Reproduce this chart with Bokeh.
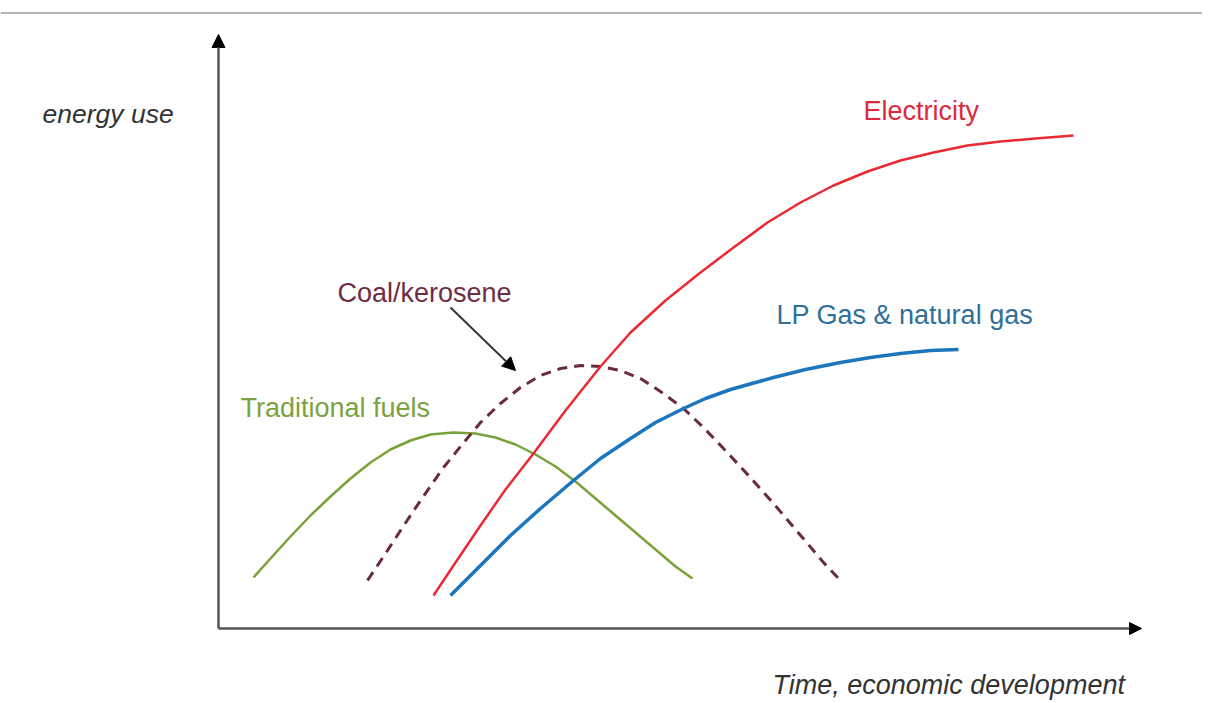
from bokeh.plotting import figure
from bokeh.models import Range1d, Arrow, NormalHead, Span
from bokeh.core.properties import value
from bokeh.embed import file_html
from bokeh.resources import INLINE

# ---- data (conceptual curves: time/economic development vs energy use) ----
trad_x = [3.5, 5.2, 7.2, 9.2, 11.2, 13.2, 15.2, 17.2, 19.2, 21.2, 23.5, 25.7, 27.7, 29.7,
          31.7, 33.7, 35.7, 37.7, 39.7, 41.7, 43.7, 45.7, 47.4]
trad_y = [5.1, 7.0, 9.2, 11.3, 13.2, 15.0, 16.6, 17.9, 18.8, 19.4, 19.6, 19.5, 19.1, 18.4,
          17.4, 16.2, 14.7, 13.0, 11.3, 9.6, 7.9, 6.2, 5.0]

coal_x = [14.9, 16.7, 18.2, 20.2, 22.5, 24.2, 26.2, 28.2, 30.2, 32.2, 34.2, 36.2, 38.2,
          40.2, 42.2, 44.2, 46.5, 48.5, 50.5, 53.0, 55.5, 57.2, 58.9, 60.5, 62.2]
coal_y = [4.8, 7.5, 9.8, 12.8, 16.1, 18.2, 20.6, 22.5, 24.1, 25.3, 26.0, 26.3, 26.2,
          25.8, 25.0, 23.7, 22.0, 20.1, 18.0, 15.3, 12.5, 10.5, 8.5, 6.6, 4.8]

elec_x = [21.5, 23.7, 26.2, 28.7, 31.5, 34.7, 38.2, 41.2, 44.7, 48.2, 51.5, 54.9, 58.2,
          61.5, 64.9, 68.2, 71.5, 74.9, 78.2, 81.7, 85.5]
elec_y = [3.3, 6.6, 10.3, 13.9, 17.5, 21.8, 26.2, 29.6, 32.8, 35.6, 38.1, 40.6, 42.6,
          44.3, 45.7, 46.8, 47.6, 48.3, 48.7, 49.0, 49.3]

gas_x = [23.2, 26.2, 29.2, 32.2, 35.5, 38.2, 41.2, 43.7, 46.5, 48.7, 51.2, 55.5, 58.7,
         62.2, 65.2, 68.2, 71.2, 74.0]
gas_y = [3.3, 6.3, 9.3, 12.0, 14.8, 17.0, 19.0, 20.6, 22.0, 23.0, 23.9, 25.1, 25.9,
         26.6, 27.1, 27.5, 27.8, 27.9]

labels = ["Traditional fuels", "Coal/kerosene", "Electricity", "LP Gas & natural gas"]
label_x = [2.2, 11.9, 64.5, 55.8]
label_y = [22.1, 33.6, 51.8, 31.4]

y_title = "energy use"
x_title = "Time, economic development"
axis_x_end = 92.3
axis_y_end = 59.4

FONT = value("Liberation Sans")

p = figure(width=1202, height=701, x_range=Range1d(-21.8, 98.4), y_range=Range1d(-7.3, 62.8),
           output_backend="svg", toolbar_location=None, min_border=0,
           x_axis_location=None, y_axis_location=None)
p.grid.visible = False
p.outline_line_color = None
p.background_fill_color = "white"

# faint top rule
p.add_layout(Span(location=61.55, dimension="width", line_color="#b4b4b4", line_width=2))

# axes with arrows
p.add_layout(Arrow(end=NormalHead(size=13, fill_color="black", line_color="black"),
                   x_start=0, y_start=0, x_end=0, y_end=axis_y_end,
                   line_color="#555555", line_width=2.5))
p.add_layout(Arrow(end=NormalHead(size=12, fill_color="black", line_color="black"),
                   x_start=0, y_start=0, x_end=axis_x_end, y_end=0,
                   line_color="#555555", line_width=2.5))

# curves
p.line(trad_x, trad_y, line_color="#7aa23a", line_width=2.5, line_join="round")
p.line(coal_x, coal_y, line_color="#6b2a3c", line_width=3, line_dash="10 7", line_join="round")
p.line(elec_x, elec_y, line_color="#ea2a32", line_width=2.5, line_join="round")
p.line(gas_x, gas_y, line_color="#1c76bd", line_width=3.5, line_join="round")

# pointer arrow from label to coal curve
p.add_layout(Arrow(end=NormalHead(size=13, fill_color="black", line_color="black"),
                   x_start=23.2, y_start=32.1, x_end=29.7, y_end=25.8,
                   line_color="#333333", line_width=2))

label_colors = ["#7ba23f", "#6e2c45", "#e0283c", "#2f6f99"]
for t, lx, ly, c in zip(labels, label_x, label_y, label_colors):
    p.text(x=[lx], y=[ly], text=[t], text_font=FONT, text_font_size=value("27px"),
           text_color=c, text_align="left", text_baseline="alphabetic")

p.text(x=[-17.6], y=[51.5], text=[y_title], text_font=FONT, text_font_size=value("26.5px"),
       text_font_style="italic", text_color="#333333", text_align="left", text_baseline="alphabetic")
p.text(x=[55.4], y=[-5.6], text=[x_title], text_font=FONT, text_font_size=value("27px"),
       text_font_style="italic", text_color="#333333", text_align="left", text_baseline="alphabetic")

open("out.html", "w").write(file_html(p, INLINE))
